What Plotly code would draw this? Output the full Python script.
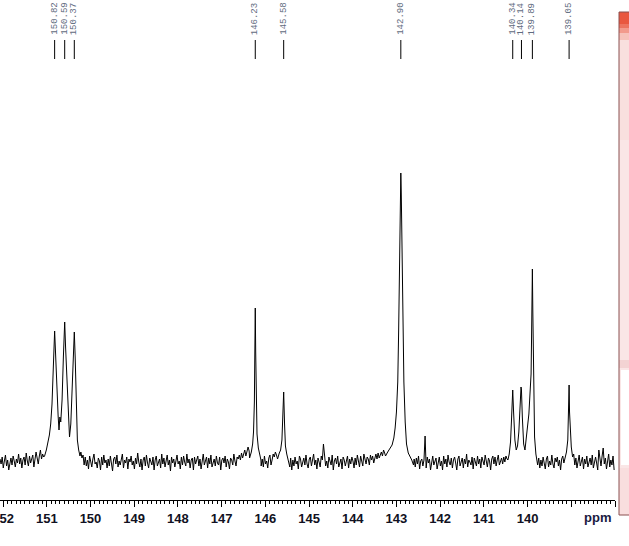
import plotly.graph_objects as go

# ---------------- data ----------------
# baseline noise read from the picture, sampled every 0.025 ppm starting at 152.07 ppm
noise_start = 152.07
noise_step = 0.025
noise_vals = [
    3, -2, 5, -6, 1, 7, -4, 2, -8, 0, 4, -3, 6, 1, -5, 3, -1, 8, -2, 4,
    -6, 2, 5, -3, 9, 1, -4, 6, -1, 3, 7, -5, 2, 10, 4, -2, 6, 12, 3, 8,
    5, 9, 14, 11, 18, 22, 20, 26, 30, 36, 44, 60, 90, 128, 131, 100, 70, 45, 35, 40,
    60, 100, 135, 140, 115, 80, 45, 25, 35, 70, 110, 130, 100, 60, 10, 4, 7, -3, 5, -4,
    2, -7, 6, -1, -5, 3, 8, -2, 0, -6, 4, 1, -8, 5, -3, 7, -1, 2, -6, 3,
    -4, 6, 0, -9, 3, 5, -2, 7, -5, 1, -3, 4, 8, -6, 2, -1, 5, -7, 3, 0,
    6, -3, 1, -7, 4, -2, 9, 0, -5, 3, -8, 2, 5, -4, 7, -1, -6, 4, 1, -3,
    5, -8, 2, 6, -4, 0, 3, -6, 8, -2, 4, -5, 1, 7, -3, 2, -9, 5, -1, 3,
    -5, 4, 7, -2, 1, -7, 5, -3, 6, 0, -4, 8, -1, 3, -6, 2, 4, -8, 5, -2,
    1, 6, -4, 3, -7, 2, 8, -3, 0, 5, -6, 4, -2, 7, -5, 1, 3, -4, 6, -1,
    -3, 5, -8, 2, 4, -1, 6, -5, 3, 0, -7, 4, 2, -3, 8, 1, -4, 5, 3, 7,
    2, 9, 4, 8, 12, 6, 10, 15, 11, 18, 30, 60, 154, 60, 28, 14, 6, 2, 0, -4,
    3, -5, 6, -2, 1, -6, 4, 7, -3, 2, 8, 5, 10, 7, 12, 15, 25, 50, 70, 30,
    15, 8, 3, 0, -3, -6, 4, -8, 2, -4, 5, -2, 1, -7, 6, 3, -5, 0, 4, -3,
    7, -2, -6, 3, 5, -4, 1, 8, -3, 2, -7, 4, 0, -5, 6, 2, 18, 3, -4, 1,
    -6, 5, 2, -3, 7, -8, 1, 4, -2, 6, -5, 0, 3, -7, 5, 2, -4, 1, 6, -6,
    3, -2, 5, 1, -6, 4, -3, 7, 0, -5, 6, 2, -4, 8, 1, -2, 5, 3, -3, 7,
    2, 6, -1, 5, 8, 3, 9, 4, 7, 10, 6, 12, 9, 8, 14, 11, 16, 14, 20, 18,
    30, 50, 130, 289, 130, 50, 25, 12, 8, 5, 3, 2, 1, 0, 0, 0, 0, 0, -2, 3,
    -5, 4, -2, 6, -7, 1, 3, -4, 2, 26, -6, 5, -1, 3, -8, 2, 6, -3, 0, 4,
    -7, 2, 5, -4, 1, -8, 6, -2, 3, -5, 7, 0, -3, 4, -6, 2, 5, -1, -8, 3,
    6, -4, 1, 4, -6, 3, -2, 8, -5, 2, 0, -3, 5, -7, 4, 1, -4, 6, -2, 3,
    -6, 5, 2, -3, 7, -1, -5, 4, 1, -8, 3, 6, -2, 5, -4, 2, 7, -3, 1, 4,
    -2, 5, 0, 6, 3, 2, 8, 20, 40, 66, 72, 50, 22, 12, 16, 30, 58, 75, 72, 45,
    18, 12, 26, 32, 48, 72, 88, 120, 193, 150, 60, 25, -3, 4, -6, 2, -4, 5, -1, -7,
    3, 6, -5, 1, -3, 7, -2, -6, 4, 0, 5, -4, 2, -8, 3, 6, -1, 10, 22, 50,
    77, 50, 32, 15, 5, 8, -3, 4, -6, 2, 7, -4, 1, 5, -7, 3, -2, 6, -5, 0,
    4, -3, 7, -6, 2, 5, -1, -8, 12, 3, -4, 6, 14, -2, 4, -7, 3, 8, -5, 2,
    -3, 6, -8,
]

# peak regions (ppm, intensity above baseline)
cluster150_ppm = [151.05, 151.01, 150.97, 150.94, 150.91, 150.88, 150.85, 150.83, 150.82, 150.80,
                  150.77, 150.74, 150.72, 150.70, 150.68, 150.65, 150.62, 150.60, 150.59, 150.57,
                  150.54, 150.51, 150.48, 150.45, 150.42, 150.39, 150.37, 150.35, 150.33, 150.30,
                  150.27, 150.24]
cluster150_int = [6, 12, 20, 27, 38, 58, 95, 125, 131, 110,
                  72, 46, 32, 45, 40, 62, 105, 135, 140, 115,
                  79, 45, 25, 38, 70, 112, 130, 105, 62, 22,
                  12, 6]

peak146_ppm = [146.36, 146.32, 146.29, 146.27, 146.25, 146.24, 146.23, 146.22, 146.21, 146.19, 146.16, 146.13, 146.10]
peak146_int = [4, 10, 18, 30, 60, 110, 154, 110, 60, 28, 14, 6, 2]

peak145_ppm = [145.72, 145.68, 145.65, 145.62, 145.60, 145.58, 145.56, 145.54, 145.51, 145.47, 145.44]
peak145_int = [3, 9, 12, 22, 40, 70, 38, 16, 8, 2, -5]

peak143_ppm = [143.25, 143.20, 143.15, 143.10, 143.06, 143.03, 143.00, 142.97, 142.95, 142.93, 142.91,
               142.90, 142.89, 142.87, 142.85, 142.83, 142.80, 142.77, 142.73, 142.69, 142.65, 142.61]
peak143_int = [6, 10, 14, 17, 24, 34, 50, 80, 130, 210, 275,
               289, 270, 200, 130, 80, 40, 18, 9, 6, 2, -3]

cluster140_ppm = [140.45, 140.42, 140.39, 140.37, 140.35, 140.34, 140.32, 140.29, 140.26, 140.23,
                  140.20, 140.17, 140.15, 140.14, 140.12, 140.09, 140.06, 140.03, 140.00, 139.97,
                  139.94, 139.92, 139.91, 139.89, 139.88, 139.86, 139.84, 139.81, 139.78]
cluster140_int = [2, 8, 20, 40, 66, 72, 50, 22, 12, 16,
                  30, 58, 75, 72, 45, 18, 12, 26, 32, 48,
                  72, 88, 120, 193, 150, 60, 25, 8, 0]

peak139_ppm = [139.15, 139.11, 139.08, 139.06, 139.05, 139.04, 139.02, 139.00, 138.97]
peak139_int = [3, 10, 22, 50, 77, 50, 32, 15, 5]

peak_labels = [150.82, 150.59, 150.37, 146.23, 145.58, 142.90, 140.34, 140.14, 139.89, 139.05]

tick_vals = [152, 151, 150, 149, 148, 147, 146, 145, 144, 143, 142, 141, 140, 139, 138]
tick_text = ["152", "151", "150", "149", "148", "147", "146", "145", "144", "143", "142", "141", "140", "", ""]

# ---------------- assemble spectrum ----------------
segments = [
    (cluster150_ppm, cluster150_int),
    (peak146_ppm, peak146_int),
    (peak145_ppm, peak145_int),
    (peak143_ppm, peak143_int),
    (cluster140_ppm, cluster140_int),
    (peak139_ppm, peak139_int),
]
points = []
for i, v in enumerate(noise_vals):
    p = round(noise_start - noise_step * i, 3)
    inside = any(min(sp) <= p <= max(sp) for sp, _ in segments)
    if not inside:
        points.append((p, v))
for sp, si in segments:
    points.extend(zip(sp, si))
points.sort(key=lambda t: -t[0])
spec_x = [p for p, _ in points]
spec_y = [v for _, v in points]

fig = go.Figure()
fig.add_trace(go.Scatter(x=spec_x, y=spec_y, mode="lines",
                         line=dict(color="black", width=1), hoverinfo="skip", showlegend=False))

shapes = []
annotations = []
for pk in peak_labels:
    shapes.append(dict(type="line", xref="x", yref="y", x0=pk, x1=pk, y0=403, y1=422,
                       line=dict(color="black", width=1)))
    annotations.append(dict(x=pk, y=425, xref="x", yref="y", text=f"{pk:.2f}",
                            textangle=-90, showarrow=False, xanchor="center", yanchor="bottom",
                            font=dict(family="Liberation Mono", size=9, color="#5f6b80")))

annotations.append(dict(x=0.971, y=-0.034, xref="paper", yref="paper", text="ppm",
                        showarrow=False, xanchor="center", yanchor="middle",
                        font=dict(family="Liberation Sans", size=13, color="#1a1a40", weight="bold")))

# right-hand side panel
def px_to_paper_x(px):
    return px / 615.0

def px_to_paper_y(py):
    return (500.0 - py) / 500.0

panel = [
    (619, 630, 12, 515, "#fae6e6"),
    (619, 630, 12, 24, "#e9573f"),
    (619, 630, 24, 28, "#ed735f"),
    (619, 630, 28, 33, "#f29a8c"),
    (619, 630, 33, 40, "#f6c2ba"),
    (619, 630, 40, 140, "#f9e0de"),
    (619, 630, 360, 368, "#f3d3d3"),
    (621, 630, 370, 465, "#ffffff"),
    (619, 630, 468, 515, "#f9dede"),
]
for x0, x1, y0, y1, c in panel:
    shapes.append(dict(type="rect", xref="paper", yref="paper",
                       x0=px_to_paper_x(x0), x1=px_to_paper_x(x1),
                       y0=px_to_paper_y(y1), y1=px_to_paper_y(y0),
                       fillcolor=c, line=dict(width=0), layer="above"))
shapes.append(dict(type="rect", xref="paper", yref="paper",
                   x0=px_to_paper_x(619), x1=px_to_paper_x(632),
                   y0=px_to_paper_y(515), y1=px_to_paper_y(12),
                   fillcolor="rgba(0,0,0,0)", line=dict(color="#8a5050", width=1), layer="above"))

fig.update_layout(
    width=629, height=546,
    margin=dict(l=0, r=14, t=0, b=46, autoexpand=False),
    paper_bgcolor="white", plot_bgcolor="white",
    showlegend=False,
    shapes=shapes,
    annotations=annotations,
    xaxis=dict(range=[152.07, 138.0], showgrid=False, zeroline=False, automargin=False,
               showline=True, linecolor="black", linewidth=1,
               ticks="outside", ticklen=6, tickcolor="black", tickwidth=1,
               tickvals=tick_vals, ticktext=tick_text, ticklabeloverflow="allow",
               tickfont=dict(family="Liberation Sans", size=13, color="#111122", weight="bold"),
               minor=dict(dtick=0.1, ticks="outside", ticklen=3, tickcolor="black", tickwidth=1)),
    yaxis=dict(range=[-38, 462], visible=False, showgrid=False, zeroline=False, automargin=False),
)

fig.write_html("out.html", config={"displayModeBar": False},
               post_script="document.body.style.margin='0';document.body.style.padding='0';"
                           "document.body.style.overflow='hidden';")
